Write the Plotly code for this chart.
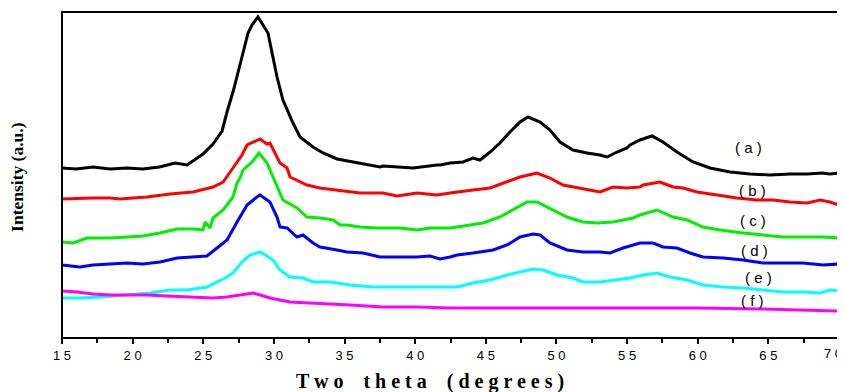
import plotly.graph_objects as go

# ---- data (two theta in degrees, intensity in arbitrary units) ----
a_x = [15.0, 16.0, 17.2, 18.4, 19.6, 20.7, 21.9, 23.0, 23.85, 24.27, 24.98, 25.69, 26.33, 26.68, 27.14,
       27.74, 28.17, 28.45, 28.87, 29.23, 29.58, 30.22, 30.64, 31.35, 31.85, 32.77, 33.48, 34.47, 35.88,
       36.09, 37.51, 37.72, 39.85, 41.55, 41.76, 42.47, 43.39, 44.09, 44.59, 45.30, 46.00, 46.71, 47.42,
       47.99, 48.84, 49.54, 50.25, 51.17, 52.16, 53.08, 53.58, 54.29, 54.99, 55.21, 55.70, 55.91, 56.76,
       57.54, 58.53, 59.67, 60.87, 62.29, 63.70, 65.12, 66.53, 67.74, 68.80, 69.36, 70.0]
a_y = [170, 169, 171, 169, 170, 169, 171, 175, 173, 177, 184, 194, 207, 226, 248,
       281, 305, 313, 321, 313, 305, 261, 238, 215, 201, 191, 185, 179, 175,
       175, 171, 172, 170, 173, 173, 175, 176, 180, 178, 186, 195, 206, 216,
       221, 216, 208, 196, 188, 185, 183, 181, 186, 190, 193, 196, 198, 202,
       196, 186, 176, 170, 166, 164, 163, 164, 164, 165, 164, 165]

b_x = [15.0, 16.27, 17.19, 18.40, 19.11, 20.0, 21.02, 22.64, 24.27, 25.69, 26.40, 27.10, 27.74, 28.10,
       28.80, 29.02, 29.51, 29.72, 30.43, 30.93, 31.14, 31.63, 32.34, 33.26, 34.47, 35.39, 36.09, 37.72,
       38.71, 40.13, 41.55, 42.47, 42.96, 44.09, 45.30, 46.50, 47.42, 48.62, 49.54, 50.46, 51.67, 53.08,
       54.00, 54.99, 55.91, 56.13, 57.33, 58.25, 58.96, 59.95, 61.37, 62.78, 64.20, 65.33, 66.53, 67.74,
       68.66, 69.36, 70.0]
b_y = [139, 140, 140, 140, 139, 140, 141, 144, 146, 151, 156, 170, 183, 193,
       198, 199, 194, 195, 175, 170, 161, 158, 153, 150, 148, 146, 145, 145,
       142, 145, 143, 145, 146, 148, 150, 156, 161, 165, 160, 153, 150, 146,
       151, 150, 151, 153, 156, 151, 150, 146, 143, 140, 138, 138, 136, 135,
       138, 136, 133]

c_x = [15.0, 15.78, 16.77, 18.40, 19.60, 20.73, 21.94, 23.14, 24.27, 24.98, 25.12, 25.48, 25.69, 26.40,
       27.10, 27.39, 27.60, 27.81, 28.45, 28.94, 29.51, 30.22, 30.64, 31.63, 32.34, 33.26, 34.18, 34.68,
       35.17, 36.09, 37.30, 38.93, 40.13, 41.05, 42.47, 42.96, 44.09, 44.80, 46.00, 46.92, 47.92, 48.62,
       49.76, 50.75, 51.88, 52.87, 54.00, 54.71, 55.42, 55.91, 57.12, 58.25, 59.24, 60.37, 61.58, 63.21,
       64.62, 66.04, 67.45, 68.87, 70.0]
c_y = [96, 95, 100, 100, 101, 102, 105, 109, 109, 108, 116, 110, 120, 128,
       141, 155, 160, 168, 176, 185, 175, 151, 138, 130, 121, 120, 118, 113,
       113, 111, 110, 110, 108, 110, 110, 111, 113, 115, 121, 128, 136, 136,
       128, 121, 116, 115, 116, 118, 120, 123, 128, 121, 118, 111, 108, 105,
       103, 101, 101, 101, 100]

d_x = [15.0, 16.27, 17.19, 18.40, 19.60, 20.73, 21.94, 23.14, 24.27, 25.26, 25.97, 26.68, 27.39, 28.10,
       28.80, 29.02, 29.72, 30.22, 30.43, 30.93, 31.63, 32.06, 32.77, 33.26, 34.47, 35.17, 36.31, 37.51,
       38.93, 40.13, 41.05, 41.76, 42.47, 42.96, 44.09, 45.51, 46.50, 47.42, 48.34, 48.84, 49.54, 50.75,
       51.88, 53.08, 53.79, 54.71, 55.91, 56.84, 57.54, 58.53, 59.45, 60.37, 61.79, 63.21, 64.62, 66.04,
       67.45, 68.87, 70.0]
d_y = [73, 71, 73, 74, 75, 74, 76, 80, 81, 82, 90, 98, 116, 133,
       141, 143, 136, 121, 111, 110, 101, 103, 95, 91, 88, 86, 85, 81,
       81, 81, 82, 79, 81, 83, 85, 88, 93, 101, 104, 103, 95, 88,
       86, 86, 85, 90, 95, 95, 91, 90, 85, 81, 80, 78, 75, 75,
       75, 73, 74]

e_x = [15.0, 16.27, 17.69, 19.60, 21.23, 22.64, 23.85, 25.26, 25.97, 26.68, 27.10, 27.74, 28.31, 28.94,
       29.02, 29.94, 30.43, 31.14, 32.06, 32.77, 33.97, 35.39, 37.01, 38.43, 40.13, 41.55, 42.47, 42.96,
       44.09, 45.30, 46.50, 47.42, 48.34, 49.05, 50.04, 51.17, 51.88, 53.08, 54.00, 55.21, 56.13, 57.12,
       58.04, 59.24, 60.37, 61.79, 63.21, 64.62, 66.04, 67.45, 68.66, 69.36, 70.0]
e_y = [40, 40, 41, 43, 45, 48, 48, 51, 56, 61, 65, 76, 83, 86,
       86, 78, 68, 61, 60, 56, 56, 53, 51, 51, 51, 51, 51, 51,
       55, 58, 63, 66, 69, 68, 63, 60, 56, 56, 58, 60, 63, 65,
       61, 58, 53, 51, 50, 48, 46, 46, 45, 48, 47]

f_x = [15.0, 16.06, 17.19, 18.40, 19.60, 21.02, 22.43, 23.85, 24.77, 25.69, 26.68, 27.81, 28.52, 29.02,
       29.51, 29.72, 31.14, 32.77, 33.05, 35.17, 35.39, 37.72, 40.13, 42.47, 46.00, 48.84, 51.67, 55.21,
       59.95, 64.62, 70.0]
f_y = [47, 46, 44, 43, 43, 43, 42, 41, 41, 40, 41, 43, 45, 43,
       41, 40, 36, 35, 35, 33, 33, 31, 31, 30, 30, 30, 30, 30,
       30, 29, 27]

series_names = ["(a)", "(b)", "(c)", "(d)", "(e)", "(f)"]
series_colors = ["#000000", "#ff0000", "#00ee00", "#0000ff", "#00ffff", "#ff00ff"]

label_text = ["( a )", "( b )", "( c )", "( d )", "( e )", "( f )"]
label_x = [63.56, 63.91, 63.91, 64.05, 64.27, 63.91]
label_y = [191, 148, 118, 88, 61, 38]

tick_vals = [15, 20, 25, 30, 35, 40, 45, 50, 55, 60, 65, 70]
tick_text = ["1\u00a05", "2\u00a00", "2\u00a05", "3\u00a00", "3\u00a05", "4\u00a00",
             "4\u00a05", "5\u00a00", "5\u00a05", "6\u00a00", "6\u00a05", "7\u00a00"]
minor_vals = [17.5, 22.5, 27.5, 32.5, 37.5, 42.5, 47.5, 52.5, 57.5, 62.5, 67.5]

gap = "\u00a0\u00a0\u00a0\u00a0"
x_title = "T w o" + gap + "t h e t a" + gap + "( d e g r e e s )"
y_title = "Intensity (a.u.)"

tick_font = dict(family="Arial, Liberation Sans", size=13, color="black")

fig = go.Figure()
xs = [a_x, b_x, c_x, d_x, e_x, f_x]
ys = [a_y, b_y, c_y, d_y, e_y, f_y]
for x, y, n, c in zip(xs, ys, series_names, series_colors):
    fig.add_trace(go.Scatter(x=x, y=y, mode="lines", name=n,
                             line=dict(color=c, width=3)))

for t, x, y in zip(label_text, label_x, label_y):
    fig.add_annotation(x=x, y=y, text=t.replace(" ", "\u00a0"), showarrow=False,
                       font=dict(family="Arial, Liberation Sans", size=15, color="black"))

# the last tick label sits at the right edge of the page: keep it fully inside
shown_ticks = tick_text[:-1] + [""]
fig.add_annotation(xref="x", yref="paper", x=tick_vals[-1], y=-0.049,
                   xanchor="right", yanchor="middle", xshift=5,
                   text=tick_text[-1], showarrow=False, font=tick_font)

fig.add_annotation(xref="paper", yref="paper", x=0.4736, y=-0.132,
                   xanchor="center", yanchor="middle",
                   text="<b>" + x_title + "</b>", showarrow=False,
                   font=dict(family="Times New Roman, Liberation Serif", size=20, color="black"))
fig.add_annotation(xref="paper", yref="paper", x=-0.058, y=0.494, textangle=-90,
                   xanchor="center", yanchor="middle",
                   text="<b>" + y_title + "</b>", showarrow=False,
                   font=dict(family="Times New Roman, Liberation Serif", size=17.5, color="black"))

# frame around the plotting area
fig.add_shape(type="rect", xref="paper", yref="paper", x0=0, y0=0, x1=1, y1=1,
              line=dict(color="black", width=2), layer="above")

# the page body has an 8px default margin, so the figure is offset by 8px
fig.update_layout(
    width=837, height=384,
    margin=dict(l=54, r=6, t=4, b=54, autoexpand=False),
    paper_bgcolor="white", plot_bgcolor="white",
    showlegend=False,
    xaxis=dict(range=[15, 70], showgrid=False, zeroline=False, showline=False,
               automargin=False,
               ticks="outside", ticklen=5, tickwidth=1.5, tickcolor="black",
               tickvals=tick_vals, ticktext=shown_ticks,
               tickfont=tick_font,
               minor=dict(ticks="outside", ticklen=4, tickwidth=1.5, tickcolor="black",
                          tickvals=minor_vals)),
    yaxis=dict(range=[0, 326], showgrid=False, zeroline=False, showticklabels=False,
               showline=False, ticks="", automargin=False),
)

fig.write_html("out.html")
